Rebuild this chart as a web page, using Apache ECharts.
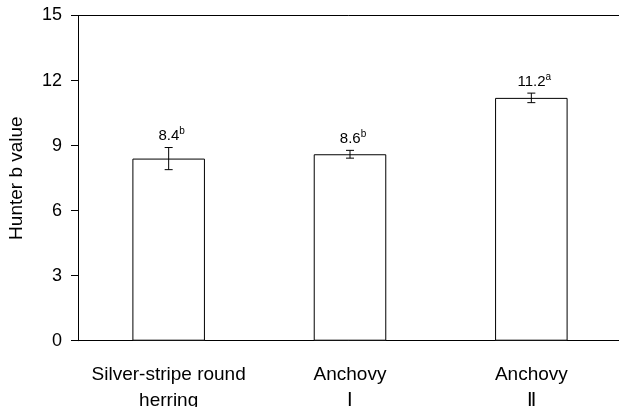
<!DOCTYPE html>
<html>
<head>
<meta charset="utf-8">
<script src="https://cdn.jsdelivr.net/npm/echarts@6/dist/echarts.min.js"></script>
<style>
  html, body { margin: 0; padding: 0; background: #fff; }
  #main { width: 619px; height: 407px; }
</style>
</head>
<body>
<div id="main"></div>
<script>
var chart = echarts.init(document.getElementById('main'));

// data
var categories = ['Silver-stripe round\nherring', 'Anchovy\nⅠ', 'Anchovy\nⅡ'];
var values = [8.4, 8.6, 11.2];
var errors = [0.51, 0.18, 0.22];
var letters = ['b', 'b', 'a'];
var yMin = 0, yMax = 15, yStep = 3;

var font = 'Liberation Sans, Arial, sans-serif';

var errData = values.map(function (v, i) { return [i, v, errors[i], letters[i]]; });

function renderErr(params, api) {
  var i = params.dataIndex;
  var v = api.value(1), e = api.value(2);
  var top = api.coord([i, v + e]);
  var bot = api.coord([i, v - e]);
  var cap = 4;
  var ls = { stroke: '#000', lineWidth: 1 };
  return {
    type: 'group',
    children: [
      { type: 'line', shape: { x1: top[0], y1: top[1], x2: bot[0], y2: bot[1] }, style: ls },
      { type: 'line', shape: { x1: top[0] - cap, y1: top[1], x2: top[0] + cap, y2: top[1] }, style: ls },
      { type: 'line', shape: { x1: bot[0] - cap, y1: bot[1], x2: bot[0] + cap, y2: bot[1] }, style: ls },
      {
        type: 'text',
        x: top[0] + 3,
        y: top[1] - 2,
        style: {
          text: '{v|' + values[i].toFixed(1) + '}{s|' + letters[i] + '}',
          align: 'center',
          verticalAlign: 'bottom',
          rich: {
            v: { fontSize: 15, fontFamily: font, fill: '#000' },
            s: { fontSize: 10, fontFamily: font, fill: '#000', padding: [0, 0, 9, 0] }
          }
        }
      }
    ]
  };
}

var option = {
  backgroundColor: '#fff',
  animation: false,
  grid: { left: 78, right: -3, top: 15.5, bottom: 66.3, containLabel: false, outerBoundsMode: 'none' },
  xAxis: [{
    type: 'category',
    data: categories,
    axisLine: { lineStyle: { color: '#000', width: 1 } },
    axisTick: { inside: true, length: 7, lineStyle: { color: '#000' } },
    axisLabel: { color: '#000', fontSize: 19, fontFamily: font, lineHeight: 26, margin: 21, interval: 0 }
  }, {
    type: 'category',
    position: 'top',
    data: categories,
    axisLine: { lineStyle: { color: '#000', width: 1 } },
    axisTick: { show: false },
    axisLabel: { show: false }
  }],
  yAxis: {
    type: 'value',
    min: yMin,
    max: yMax,
    interval: yStep,
    name: 'Hunter b value',
    nameLocation: 'middle',
    nameGap: 52,
    nameTextStyle: { color: '#000', fontSize: 19, fontFamily: font },
    axisLine: { show: true, lineStyle: { color: '#000', width: 1 } },
    axisTick: { show: true, length: 7, lineStyle: { color: '#000' } },
    axisLabel: { color: '#000', fontSize: 18, fontFamily: font, margin: 16 },
    splitLine: { show: false }
  },
  series: [{
    type: 'bar',
    data: values,
    barWidth: '40%',
    itemStyle: { color: '#fff', borderColor: '#000', borderWidth: 1 },
    silent: true
  }, {
    type: 'custom',
    data: errData,
    renderItem: renderErr,
    z: 5,
    silent: true
  }]
};

chart.setOption(option);
</script>
</body>
</html>
